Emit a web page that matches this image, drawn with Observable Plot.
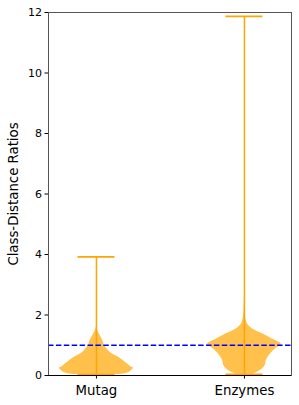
<!DOCTYPE html>
<html><head><meta charset="utf-8">
<script src="https://cdn.jsdelivr.net/npm/d3@7"></script>
<script src="https://cdn.jsdelivr.net/npm/@observablehq/plot@0.6"></script>
<style>body{margin:0;background:#fff}</style>
</head><body><div id="chart"></div>
<script>
// Categories and their x positions
const categories = ["Mutag", "Enzymes"];
const positions = [1, 2];
// Extremes of each distribution
const mins = [0.03, 0.04];
const maxes = [3.92, 11.87];
const threshold = 1;
const yTicks = [0, 2, 4, 6, 8, 10, 12];
const yLabel = "Class-Distance Ratios";

// Violin profiles: value, relative density (0..1)
const mutagY = [0.03, 0.05, 0.11, 0.19, 0.24, 0.29, 0.39, 0.50, 0.61, 0.72, 0.83, 0.99, 1.16, 1.32, 1.49, 1.62];
const mutagD = [0.55, 0.73, 0.89, 0.97, 1.00, 0.93, 0.83, 0.72, 0.59, 0.42, 0.32, 0.22, 0.17, 0.10, 0.03, 0.00];
const enzymesY = [0.04, 0.08, 0.19, 0.33, 0.50, 0.66, 0.83, 0.94, 1.02, 1.08, 1.21, 1.38, 1.54, 1.71, 1.93, 2.2, 2.6];
const enzymesD = [0.24, 0.30, 0.46, 0.56, 0.59, 0.67, 0.79, 0.91, 1.00, 0.96, 0.75, 0.49, 0.22, 0.08, 0.03, 0.01, 0.00];

const halfWidth = 0.25;   // violin half width in x units
const capHalf = 0.125;

const profiles = [
  mutagY.map((y, i) => ({pos: positions[0], y, d: mutagD[i]})),
  enzymesY.map((y, i) => ({pos: positions[1], y, d: enzymesD[i]}))
];
const stats = categories.map((c, i) => ({name: c, pos: positions[i], min: mins[i], max: maxes[i]}));

const orange = "#FFA500";

const marks = [];
profiles.forEach(p => {
  marks.push(Plot.areaX(p, {
    y: "y",
    x1: d => d.pos - d.d * halfWidth,
    x2: d => d.pos + d.d * halfWidth,
    fill: orange, fillOpacity: 0.7, curve: "catmull-rom"
  }));
});
marks.push(
  Plot.ruleX(stats, {x: "pos", y1: "min", y2: "max", stroke: orange, strokeWidth: 1.5}),
  Plot.ruleY(stats, {y: "max", x1: d => d.pos - capHalf, x2: d => d.pos + capHalf, stroke: orange, strokeWidth: 1.8}),
  Plot.ruleY(stats, {y: "min", x1: d => d.pos - capHalf, x2: d => d.pos + capHalf, stroke: orange, strokeWidth: 1.8}),
  Plot.ruleY([threshold], {stroke: "blue", strokeWidth: 1.5, strokeDasharray: "5.5,2.4"}),
  Plot.frame({stroke: "#555", strokeWidth: 1}),
  Plot.ruleY([0], {stroke: "#000", strokeWidth: 1}),
  Plot.axisY({ticks: yTicks, tickSize: 3.5, tickPadding: 3, fontSize: 11, label: null}),
  Plot.axisX({ticks: positions, tickFormat: d => categories[positions.indexOf(d)], tickSize: 3.5, tickPadding: 7, fontSize: 13.3, label: null}),
  Plot.text([yLabel], {frameAnchor: "left", dx: -35, rotate: -90, fontSize: 13.3, textAnchor: "middle", fill: "#000"})
);

const chart = Plot.plot({
  width: 299, height: 405,
  marginLeft: 48, marginRight: 8, marginTop: 12, marginBottom: 30,
  x: {domain: [0.676, 2.318]},
  y: {domain: [0, 12]},
  style: {fontFamily: "DejaVu Sans", background: "white", color: "#000"},
  marks
});
document.getElementById("chart").appendChild(chart);
</script>
</body></html>
